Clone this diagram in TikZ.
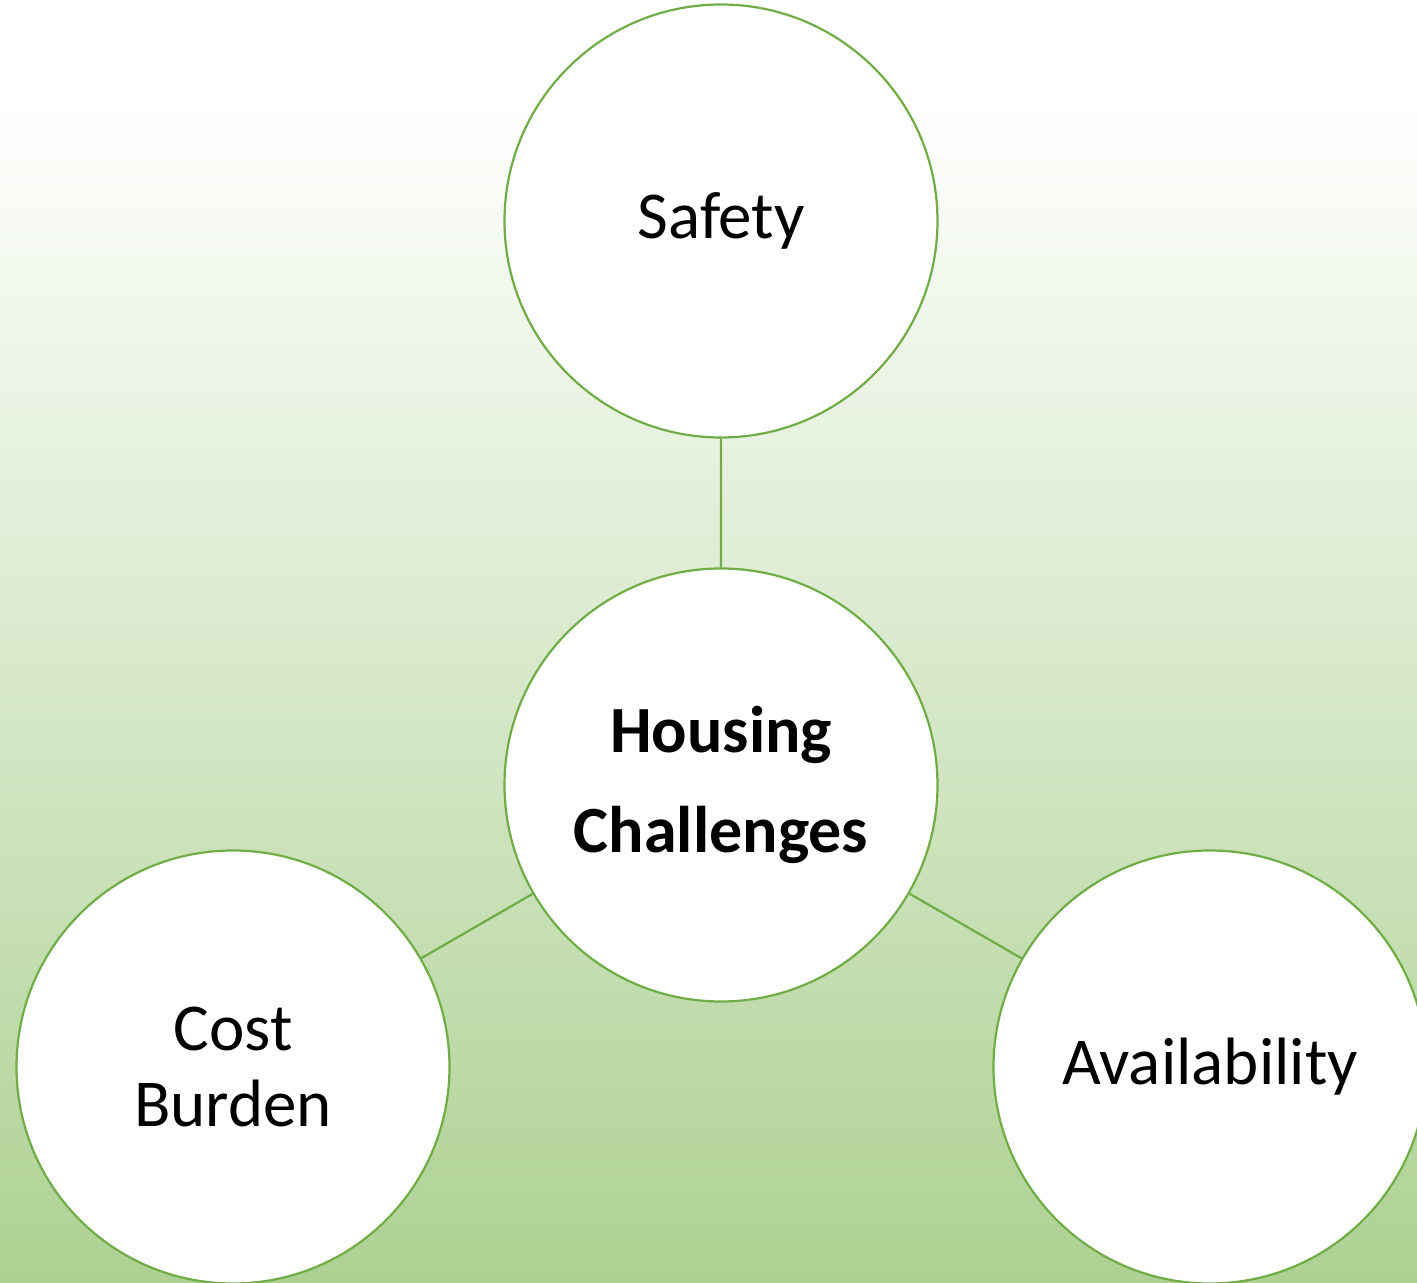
\documentclass[tikz,border=0pt]{standalone}
\usepackage{fontspec}
\setmainfont{Carlito}
\definecolor{leaf}{RGB}{112,173,71}
\definecolor{meadow}{RGB}{173,209,146}
\tikzset{
  bubble/.style={circle, draw=leaf, line width=2.2pt, fill=white, minimum size=433pt,
    inner sep=0pt, align=center, font=\fontsize{67}{76}\selectfont},
  link/.style={draw=leaf, line width=2.2pt}
}

\begin{document}
\begin{tikzpicture}[x=1pt,y=1pt]
    \useasboundingbox (0,0) rectangle (1417,1283);
    \clip (0,0) rectangle (1417,1283);
    \fill[white] (0,1183) rectangle (1417,1283);
    \shade[top color=white, bottom color=meadow] (0,0) rectangle (1417,1183);
    \node[bubble] (safety) at (721,1062) {Safety};
    \node[bubble, font=\fontsize{66}{100}\selectfont\bfseries] (hc) at (721,498) {Housing\\Challenges};
    \node[bubble] (cost) at (233,216) {Cost\\Burden};
    \node[bubble] (avail) at (1210,216) {Availability};
    \draw[link] (hc) -- (safety)
    (hc) -- (cost)
    (hc) -- (avail);
  \end{tikzpicture}
\end{document}
